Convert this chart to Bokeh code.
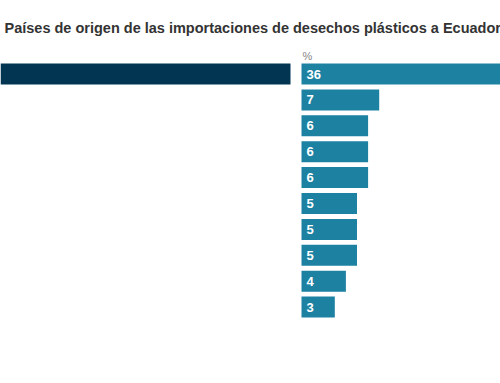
from bokeh.plotting import figure
from bokeh.models import Range1d, Label, LabelSet, ColumnDataSource
from bokeh.embed import file_html
from bokeh.resources import INLINE
from bokeh.core.properties import value

# ---- data ----
title = "Países de origen de las importaciones de desechos plásticos a Ecuador"
unit_label = "%"
rank = [1, 2, 3, 4, 5, 6, 7, 8, 9, 10]
share = [36, 7, 6, 6, 6, 5, 5, 5, 4, 3]
left_col = [100, 0, 0, 0, 0, 0, 0, 0, 0, 0]

# ---- layout constants ----
W, H = 500, 383
PX_PER_UNIT = 11.1
BAR_X0 = 301
ROW0 = 73.5
PITCH = 25.9
BAR_H = 21 / PITCH
FONT = "Liberation Sans"


def xd(px):
    return (px - BAR_X0) / PX_PER_UNIT


def yd(py):
    return 1 + (py - ROW0) / PITCH


src = ColumnDataSource(dict(
    rank=rank,
    share=share,
    left_col=left_col,
    share_txt=[str(v) for v in share],
))

p = figure(
    width=W, height=H,
    x_range=Range1d(xd(0), xd(W)),
    y_range=Range1d(yd(H), yd(0)),
    output_backend="svg", toolbar_location=None,
    x_axis_location=None, y_axis_location=None,
    min_border=0,
)
p.extra_x_ranges = {"left": Range1d(0, 100 * W / 290)}
p.grid.visible = False
p.outline_line_color = None
p.background_fill_color = "white"
p.border_fill_color = "white"

p.hbar(y="rank", left=0, right="left_col", height=BAR_H, source=src,
       fill_color="#013552", line_color=None, x_range_name="left")
p.hbar(y="rank", left=0, right="share", height=BAR_H, source=src,
       fill_color="#1d81a2", line_color=None)

p.add_layout(LabelSet(
    x=0, y="rank", text="share_txt", source=src, x_offset=5,
    text_baseline="middle", text_align="left", text_color="white",
    text_font_size="13px", text_font_style="bold", text_font=value(FONT),
))

p.add_layout(Label(
    x=xd(4), y=yd(27), text=title, text_font=FONT,
    text_font_size="14.5px", text_font_style="bold", text_color="#333333",
    text_baseline="alphabetic", text_align="left",
))

p.add_layout(Label(
    x=xd(302), y=yd(55), text=unit_label, text_font=FONT,
    text_font_size="11px", text_color="#888888",
    text_baseline="alphabetic", text_align="left",
))

open("out.html", "w").write(file_html(p, INLINE))
